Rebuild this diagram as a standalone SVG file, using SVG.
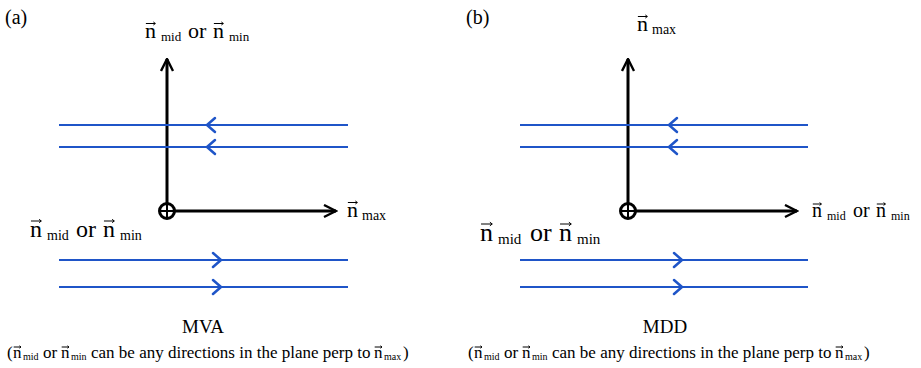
<svg xmlns="http://www.w3.org/2000/svg" width="921" height="368" viewBox="0 0 921 368">
<defs>
<style>
text{font-family:"Liberation Serif","Times New Roman",serif;fill:#000}
.axis{stroke:#000;stroke-width:3;fill:none}
.field{stroke:#1f55c8;stroke-width:2;fill:none}
.chev{stroke:#1f55c8;stroke-width:2.5;fill:none;stroke-linecap:round;stroke-linejoin:round}
.vec{stroke:#000;fill:none;stroke-width:1}
</style>
<path id="va" d="M0.04,0 H0.47 M0.38,-0.07 L0.47,0 L0.38,0.07" vector-effect="non-scaling-stroke"/>
<marker id="ah" viewBox="0 0 10 10" refX="9" refY="5" markerWidth="5" markerHeight="5" orient="auto" markerUnits="strokeWidth">
<path d="M1,1 L9,5 L1,9" fill="none" stroke="#000" stroke-width="1.6"/>
</marker>
</defs>
<rect width="921" height="368" fill="#fff"/>

<g id="panel-a">
<text x="5" y="24" font-size="20">(a)</text>
<g id="a-top-label">
<text y="38" font-size="22"><tspan x="145">n</tspan><tspan x="161" y="41" font-size="13">mid</tspan><tspan x="188" y="38">or</tspan><tspan x="213">n</tspan><tspan x="229" y="41" font-size="13">min</tspan></text>
<g class="vec"><use href="#va" transform="translate(145,23.5) scale(22)"/><use href="#va" transform="translate(213,23.5) scale(22)"/></g>
</g>
<g id="a-right-label">
<text y="217" font-size="22"><tspan x="347">n</tspan><tspan x="362" y="220" font-size="14">max</tspan></text>
<g class="vec"><use href="#va" transform="translate(347,202.5) scale(22)"/></g>
</g>
<g id="a-left-label">
<text y="237" font-size="24"><tspan x="30">n</tspan><tspan x="47" y="240" font-size="14">mid</tspan><tspan x="76" y="237">or</tspan><tspan x="103">n</tspan><tspan x="120" y="240" font-size="14">min</tspan></text>
<g class="vec"><use href="#va" transform="translate(30,221) scale(24)"/><use href="#va" transform="translate(103,221) scale(24)"/></g>
</g>
<g id="a-origin"><circle cx="167" cy="211" r="7.5" class="axis" stroke-width="2.5"/><line x1="159.5" y1="211" x2="174.5" y2="211" stroke="#000" stroke-width="2"/><line x1="167" y1="203.5" x2="167" y2="218.5" stroke="#000" stroke-width="2"/></g>
<text x="203" y="333" font-size="19" text-anchor="middle">MVA</text>
<g id="a-caption">
<text y="358" font-size="17"><tspan x="7">(</tspan><tspan x="13">n</tspan><tspan x="23" y="360" font-size="10">mid</tspan><tspan x="43" y="358">or</tspan><tspan x="61">n</tspan><tspan x="71" y="360" font-size="10">min</tspan><tspan x="91" y="358">can be any directions in the plane perp to</tspan><tspan x="374">n</tspan><tspan x="384" y="360" font-size="10">max</tspan><tspan x="403" y="358">)</tspan></text>
<g class="vec"><use href="#va" transform="translate(13,347) scale(17)"/><use href="#va" transform="translate(61,347) scale(17)"/><use href="#va" transform="translate(374,347) scale(17)"/></g>
</g>
</g>

<g id="panel-b">
<text x="466" y="24" font-size="20">(b)</text>
<g id="b-top-label">
<text y="31" font-size="22"><tspan x="637">n</tspan><tspan x="652" y="34" font-size="14">max</tspan></text>
<g class="vec"><use href="#va" transform="translate(637,16.5) scale(22)"/></g>
</g>
<g id="b-right-label">
<text y="217" font-size="20"><tspan x="812">n</tspan><tspan x="827" y="220" font-size="12">mid</tspan><tspan x="853" y="217">or</tspan><tspan x="876">n</tspan><tspan x="891" y="220" font-size="12">min</tspan></text>
<g class="vec"><use href="#va" transform="translate(812,204) scale(20)"/><use href="#va" transform="translate(876,204) scale(20)"/></g>
</g>
<g id="b-left-label">
<text y="241" font-size="26"><tspan x="480">n</tspan><tspan x="498" y="244" font-size="15">mid</tspan><tspan x="530" y="241">or</tspan><tspan x="559">n</tspan><tspan x="577" y="244" font-size="15">min</tspan></text>
<g class="vec"><use href="#va" transform="translate(480,224) scale(26)"/><use href="#va" transform="translate(559,224) scale(26)"/></g>
</g>
<g id="b-origin"><circle cx="628" cy="211" r="7.5" class="axis" stroke-width="2.5"/><line x1="620.5" y1="211" x2="635.5" y2="211" stroke="#000" stroke-width="2"/><line x1="628" y1="203.5" x2="628" y2="218.5" stroke="#000" stroke-width="2"/></g>
<text x="665" y="333" font-size="19" text-anchor="middle">MDD</text>
<g id="b-caption">
<text y="358" font-size="17"><tspan x="468">(</tspan><tspan x="474">n</tspan><tspan x="484" y="360" font-size="10">mid</tspan><tspan x="504" y="358">or</tspan><tspan x="522">n</tspan><tspan x="532" y="360" font-size="10">min</tspan><tspan x="552" y="358">can be any directions in the plane perp to</tspan><tspan x="835">n</tspan><tspan x="845" y="360" font-size="10">max</tspan><tspan x="864" y="358">)</tspan></text>
<g class="vec"><use href="#va" transform="translate(474,347) scale(17)"/><use href="#va" transform="translate(522,347) scale(17)"/><use href="#va" transform="translate(835,347) scale(17)"/></g>
</g>
</g>

<g id="connectors">
<line class="axis" x1="167" y1="203" x2="167" y2="59" marker-end="url(#ah)"/>
<line class="axis" x1="175" y1="211" x2="336" y2="211" marker-end="url(#ah)"/>
<line class="axis" x1="628" y1="203" x2="628" y2="59" marker-end="url(#ah)"/>
<line class="axis" x1="636" y1="211" x2="797" y2="211" marker-end="url(#ah)"/>
<g id="field-a">
<line class="field" x1="59" y1="125" x2="348" y2="125"/>
<line class="field" x1="59" y1="147" x2="348" y2="147"/>
<line class="field" x1="59" y1="260" x2="348" y2="260"/>
<line class="field" x1="59" y1="287" x2="348" y2="287"/>
<path class="chev" d="M215,118 L207,125 L215,132 M215,140 L207,147 L215,154"/>
<path class="chev" d="M213,253 L221,260 L213,267 M213,280 L221,287 L213,294"/>
</g>
<g id="field-b">
<line class="field" x1="520" y1="125" x2="808" y2="125"/>
<line class="field" x1="520" y1="147" x2="808" y2="147"/>
<line class="field" x1="520" y1="260" x2="808" y2="260"/>
<line class="field" x1="520" y1="287" x2="808" y2="287"/>
<path class="chev" d="M677,118 L669,125 L677,132 M677,140 L669,147 L677,154"/>
<path class="chev" d="M674,253 L682,260 L674,267 M674,280 L682,287 L674,294"/>
</g>
</g>
</svg>
